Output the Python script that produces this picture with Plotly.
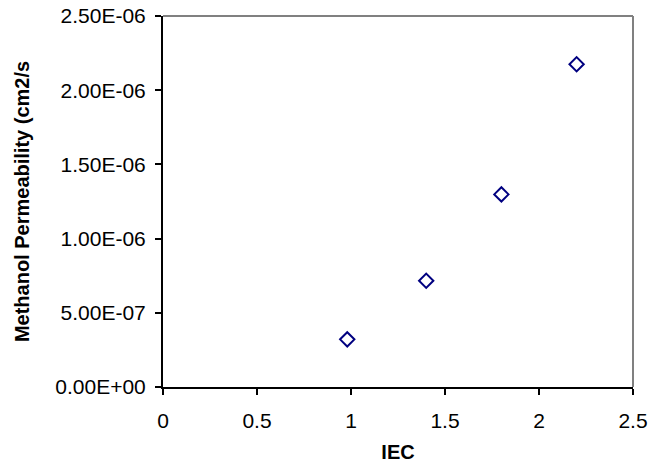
import plotly.graph_objects as go

iec = [0.98, 1.40, 1.80, 2.20]
permeability = [3.21e-7, 7.16e-7, 1.298e-6, 2.175e-6]

y_tickvals = [0, 5e-7, 1e-6, 1.5e-6, 2e-6, 2.5e-6]
y_ticktext = ["0.00E+00", "5.00E-07", "1.00E-06", "1.50E-06", "2.00E-06", "2.50E-06"]
x_tickvals = [0, 0.5, 1, 1.5, 2, 2.5]
x_ticktext = ["0", "0.5", "1", "1.5", "2", "2.5"]

FONT = "Liberation Sans, Arial, sans-serif"

fig = go.Figure()
fig.add_trace(go.Scatter(
    x=iec, y=permeability, mode="markers",
    marker=dict(symbol="diamond-open", size=11, color="#000080",
                line=dict(color="#000080", width=2)),
    showlegend=False, cliponaxis=False,
))

fig.update_layout(
    width=652, height=465,
    margin=dict(l=163, r=19, t=16, b=78),
    paper_bgcolor="white", plot_bgcolor="white",
    font=dict(family=FONT, size=21, color="black"),
    xaxis=dict(
        range=[0, 2.5], tickvals=x_tickvals, ticktext=x_ticktext,
        showgrid=False, zeroline=False, showline=True, linecolor="black", linewidth=2,
        ticks="outside", ticklen=6, tickwidth=2, tickcolor="black",
        tickfont=dict(size=21), automargin=False, ticklabelstandoff=8,
        title=dict(text="<b>IEC</b>", font=dict(size=20), standoff=14),
    ),
    yaxis=dict(
        range=[0, 2.5e-6], tickvals=y_tickvals, ticktext=y_ticktext,
        showgrid=False, zeroline=False, showline=True, linecolor="black", linewidth=2,
        ticks="outside", ticklen=6, tickwidth=2, tickcolor="black",
        tickfont=dict(size=21), automargin=False, ticklabelstandoff=5,
        title=dict(text="<b>Methanol Permeability (cm2/s</b>", font=dict(size=20), standoff=20),
    ),
    shapes=[
        dict(type="line", xref="paper", yref="paper", x0=0, x1=1, y0=1, y1=1,
             line=dict(color="#808080", width=2)),
        dict(type="line", xref="paper", yref="paper", x0=1, x1=1, y0=0, y1=1,
             line=dict(color="#808080", width=2)),
    ],
)

fig.write_html("out.html", config={"displayModeBar": False},
               post_script="document.body.style.margin='0';document.body.style.overflow='hidden';")
